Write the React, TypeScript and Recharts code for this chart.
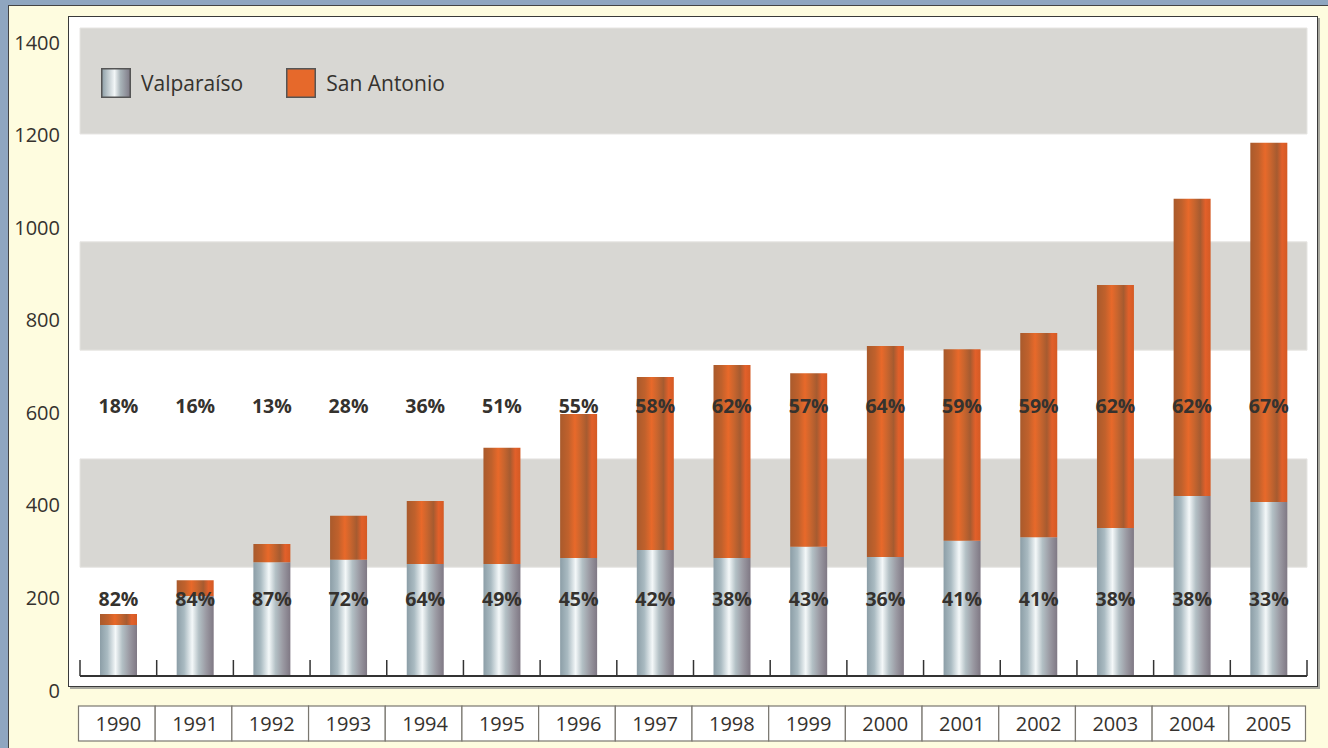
import React from "react";
import { BarChart, Bar, XAxis, YAxis, ReferenceArea, LabelList, Legend } from "recharts";

const years = ["1990","1991","1992","1993","1994","1995","1996","1997","1998","1999","2000","2001","2002","2003","2004","2005"];
const valparaiso = [110, 173, 246, 251, 242, 242, 255, 272, 255, 279, 257, 292, 300, 320, 389, 376];
const sanAntonio = [24, 34, 39, 95, 136, 251, 311, 374, 417, 375, 456, 414, 441, 525, 642, 776];
const valPct = [82, 84, 87, 72, 64, 49, 45, 42, 38, 43, 36, 41, 41, 38, 38, 33];
const saPct = [18, 16, 13, 28, 36, 51, 55, 58, 62, 57, 64, 59, 59, 62, 62, 67];
const yTicks = [0, 200, 400, 600, 800, 1000, 1200, 1400];
const bands: [number, number][] = [[235, 469], [704, 938], [1171, 1400]];

const data = years.map((y, i) => ({ year: y, valparaiso: valparaiso[i], sanAntonio: sanAntonio[i], vp: valPct[i], sp: saPct[i] }));

const FONT = "'Open Sans', 'DejaVu Sans', sans-serif";
const TEXT = "#35322e";

const YTick = (props: any) => {
  const { x, y, payload } = props;
  return (
    <text x={x} y={y + 14} textAnchor="end" dominantBaseline="central" fontSize={20} fill={TEXT} fontFamily={FONT}>
      {payload.value}
    </text>
  );
};

const XTick = (props: any) => {
  const { x, y, payload, index, width, visibleTicksCount } = props;
  const half = width / (visibleTicksCount || years.length) / 2;
  const last = index === (visibleTicksCount || years.length) - 1;
  return (
    <g>
      <line x1={x - half} x2={x - half} y1={y - 16} y2={y} stroke="#333" strokeWidth={1.5} />
      {last && <line x1={x + half} x2={x + half} y1={y - 16} y2={y} stroke="#333" strokeWidth={1.5} />}
      <rect x={x - half - 1.5} y={y + 30} width={half * 2} height={35} fill="#ffffff" stroke="#7a7770" strokeWidth={1.2} />
      <text x={x} y={y + 47} textAnchor="middle" dominantBaseline="central" fontSize={20} fill={TEXT} fontFamily={FONT}>
        {payload.value}
      </text>
    </g>
  );
};

const makePctLabel = (rowY: number, arr: number[]) => (props: any) => {
  const { x, width, index } = props;
  return (
    <text x={x + width / 2} y={rowY} textAnchor="middle" dominantBaseline="central" fontSize={19.5} fontWeight={700} fill={TEXT} fontFamily={FONT}>
      {arr[index]}%
    </text>
  );
};

const LegendContent = () => (
  <div style={{ display: "flex", alignItems: "center", fontFamily: FONT, fontSize: 21, color: TEXT }}>
    <svg width={30} height={30} style={{ marginRight: 10 }}>
      <defs>
        <linearGradient id="lgVal" x1="0" y1="0" x2="1" y2="0">
          <stop offset="0%" stopColor="#8d9ea6" />
          <stop offset="45%" stopColor="#f2f6f7" />
          <stop offset="65%" stopColor="#aab5ba" />
          <stop offset="100%" stopColor="#7e7985" />
        </linearGradient>
      </defs>
      <rect x={0.75} y={0.75} width={28.5} height={28.5} fill="url(#lgVal)" stroke="#555" strokeWidth={1.5} />
    </svg>
    <span style={{ marginRight: 43 }}>Valparaíso</span>
    <svg width={30} height={30} style={{ marginRight: 10 }}>
      <rect x={0.75} y={0.75} width={28.5} height={28.5} fill="#e6692b" stroke="#555" strokeWidth={1.5} />
    </svg>
    <span>San Antonio</span>
  </div>
);

export default function App() {
  return (
    <div style={{ position: "absolute", left: 0, top: 0, width: 1328, height: 748, background: "#8fa6c0", overflow: "hidden" }}>
      <div style={{ position: "absolute", left: 8, top: 5, width: 1320, height: 743, background: "#fefcdf", borderLeft: "1.5px solid #444", borderTop: "1.5px solid #444", boxSizing: "border-box" }} />
      <div style={{ position: "absolute", left: 68, top: 16, width: 1250, height: 671, background: "#ffffff", border: "1.5px solid #3a3a3a", boxSizing: "border-box", boxShadow: "2px 2px 0 #a9a9a0" }} />
      <div style={{ position: "absolute", left: 0, top: 0 }}>
        <BarChart width={1328} height={748} data={data} margin={{ top: 28, right: 21, bottom: 70, left: 10 }} barSize={37}>
          <defs>
            <linearGradient id="gVal" x1="0" y1="0" x2="1" y2="0">
              <stop offset="0%" stopColor="#8c9ea7" />
              <stop offset="20%" stopColor="#a9bac1" />
              <stop offset="42%" stopColor="#f4f8f9" />
              <stop offset="60%" stopColor="#b3c0c5" />
              <stop offset="80%" stopColor="#9a99a2" />
              <stop offset="100%" stopColor="#7f7884" />
            </linearGradient>
            <linearGradient id="gSA" x1="0" y1="0" x2="1" y2="0">
              <stop offset="0%" stopColor="#a95a2c" />
              <stop offset="22%" stopColor="#c0612c" />
              <stop offset="40%" stopColor="#e8692a" />
              <stop offset="55%" stopColor="#c9652e" />
              <stop offset="72%" stopColor="#a65b30" />
              <stop offset="86%" stopColor="#e2602a" />
              <stop offset="100%" stopColor="#d45a24" />
            </linearGradient>
          </defs>
          {bands.map(([a, b], i) => (
            <ReferenceArea key={i} y1={a} y2={b} fill="#d8d7d3" fillOpacity={1} stroke="#e6e5e2" strokeWidth={1} />
          ))}
          <XAxis dataKey="year" height={2} tickSize={0} tickMargin={0} tickLine={false} axisLine={{ stroke: "#333", strokeWidth: 2 }} tick={<XTick />} interval={0} />
          <YAxis domain={[0, 1400]} ticks={yTicks} width={70} tickSize={0} tickMargin={20} tickLine={false} axisLine={false} tick={<YTick />} allowDataOverflow />
          <Legend layout="horizontal" verticalAlign="middle" align="center" wrapperStyle={{ position: "absolute", left: 101, top: 68, width: 500 }} content={<LegendContent />} />
          <Bar dataKey="valparaiso" stackId="a" fill="url(#gVal)" isAnimationActive={false}>
            <LabelList dataKey="vp" content={makePctLabel(598, valPct)} />
          </Bar>
          <Bar dataKey="sanAntonio" stackId="a" fill="url(#gSA)" isAnimationActive={false}>
            <LabelList dataKey="sp" content={makePctLabel(405, saPct)} />
          </Bar>
        </BarChart>
      </div>
    </div>
  );
}
